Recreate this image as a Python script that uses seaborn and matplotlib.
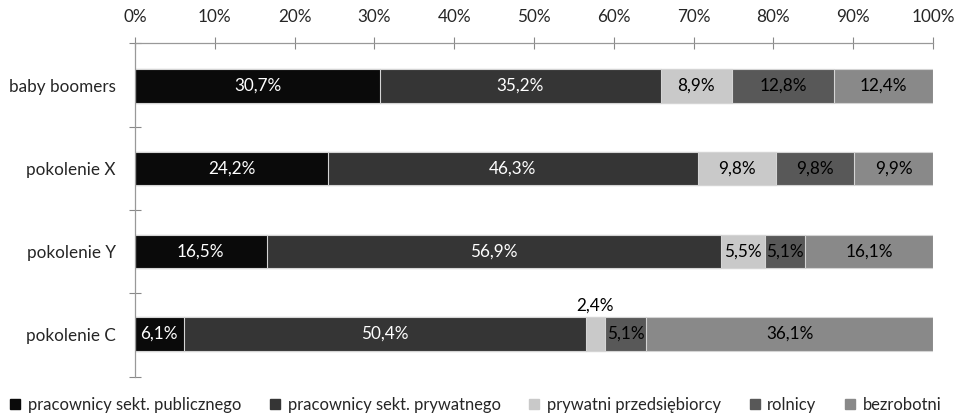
import matplotlib
matplotlib.use("Agg")
import matplotlib.pyplot as plt
import seaborn as sns
import pandas as pd
import numpy as np
from matplotlib.lines import Line2D
from matplotlib.ticker import FuncFormatter, FixedLocator

sns.set_theme(style="white")
plt.rcParams['font.family'] = ['Lato', 'DejaVu Sans']

categories = ["baby boomers", "pokolenie X", "pokolenie Y", "pokolenie C"]
series_names = ["pracownicy sekt. publicznego", "pracownicy sekt. prywatnego",
                "prywatni przedsiębiorcy", "rolnicy", "bezrobotni"]
publiczny = [30.7, 24.2, 16.5, 6.1]
prywatny = [35.2, 46.3, 56.9, 50.4]
przedsiebiorcy = [8.9, 9.8, 5.5, 2.4]
rolnicy = [12.8, 9.8, 5.1, 5.1]
bezrobotni = [12.4, 9.9, 16.1, 36.1]
x_ticks = [0, 10, 20, 30, 40, 50, 60, 70, 80, 90, 100]

colors = ["#0a0a0a", "#353535", "#c9c9c9", "#585858", "#898989"]
text_colors = ["white", "white", "black", "black", "black"]

series = [publiczny, prywatny, przedsiebiorcy, rolnicy, bezrobotni]
vals = np.array(series, dtype=float)  # shape (5, 4)
cum = np.cumsum(vals, axis=0)

FS = 12.3

fig = plt.figure(figsize=(9.56, 4.13), dpi=100)
ax = fig.add_axes([135/956, 1-377/413, (933-135)/956, (377-43)/413])

for i in range(len(series) - 1, -1, -1):
    d = pd.DataFrame({"cat": categories, "val": np.minimum(cum[i], 100)})
    sns.barplot(data=d, x="val", y="cat", orient="h", color=colors[i],
                width=0.4, edgecolor="#d4d4d4", linewidth=0.8, ax=ax,
                saturation=1)

starts = np.vstack([np.zeros(4), cum[:-1]])
for i in range(len(series)):
    for j in range(4):
        v = vals[i, j]
        xc = starts[i, j] + v / 2
        lab = f"{v:.1f}".replace(".", ",") + "%"
        if v < 3:
            ax.text(xc, j - 0.25, lab, ha="center", va="bottom",
                    color="black", fontsize=FS)
        else:
            ax.text(xc, j, lab, ha="center", va="center",
                    color=text_colors[i], fontsize=FS)

ax.set_xlim(0, 100)
ax.set_ylim(3.52, -0.52)
ax.xaxis.tick_top()
ax.xaxis.set_major_locator(FixedLocator(x_ticks))
ax.xaxis.set_major_formatter(FuncFormatter(lambda v, p: f"{int(v)}%"))
ax.tick_params(axis="x", direction="inout", length=8, width=0.8,
               color="#888888", labelsize=FS, pad=9, top=True, bottom=False)
ax.set_xlabel("")
ax.set_ylabel("")
ax.set_yticks(range(4))
ax.set_yticklabels(categories)
ax.tick_params(axis="y", length=0, labelsize=FS, pad=14, left=False)
ax.yaxis.set_minor_locator(FixedLocator([-0.52, 0.5, 1.5, 2.5, 3.52]))
ax.tick_params(axis="y", which="minor", direction="inout", length=8,
               width=0.8, color="#888888", left=True)
for s in ["right", "bottom"]:
    ax.spines[s].set_visible(False)
for s in ["top", "left"]:
    ax.spines[s].set_color("#999999")
    ax.spines[s].set_linewidth(0.9)

handles = [Line2D([0], [0], marker="s", linestyle="", markersize=7.5,
                  markerfacecolor=c, markeredgecolor=c) for c in colors]
fig.legend(handles, series_names, loc="lower center", ncol=5, frameon=False,
           bbox_to_anchor=(0.497, -0.035), fontsize=11.9, handletextpad=0.35,
           columnspacing=1.65, handlelength=0.8)

fig.savefig("out.png", dpi=100)
